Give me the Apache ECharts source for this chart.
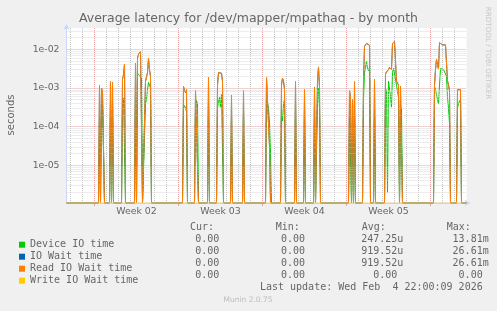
<!DOCTYPE html>
<html>
<head>
<meta charset="utf-8">
<title>Average latency for /dev/mapper/mpathaq - by month</title>
<script src="https://cdn.jsdelivr.net/npm/echarts@6/dist/echarts.min.js"></script>
<style>
html, body { margin: 0; padding: 0; background: #f0f0f0; }
#chart { width: 497px; height: 311px; }
</style>
</head>
<body>
<div id="chart"></div>
<script>
// sample times: hours after Mon 5 Jan 00:00 (2 hour steps, munin month view)
const hours = [
  -56,
  8, 10, 12, 14, 16, 18, 20,
  30, 32, 34, 36, 38,
  54, 56, 58, 60, 62,
  80, 82, 84, 86, 88, 90, 92, 94, 96,
  100, 102, 104, 106, 108, 110, 112, 114,
  176, 178, 180, 182, 184, 186,
  200, 202, 204, 206, 208,
  226, 228, 230,
  244, 246, 248, 250, 252, 254, 256, 258,
  272, 274, 276,
  296, 298, 300,
  342, 344, 346, 348, 350, 352, 354,
  372, 374, 376, 378, 380, 382,
  400, 402, 404,
  418, 420, 422,
  438, 440, 442, 444, 446, 448, 450, 452,
  508, 510, 512, 514, 516, 518, 520, 522,
  536, 538, 540, 542, 544, 546, 548, 550, 552,
  558, 560, 562,
  580, 582, 584, 586, 588, 590, 592, 594, 596, 598, 600, 602, 604, 606, 608, 610, 612, 614, 616,
  678, 680, 682, 684, 686, 688, 690, 692, 694, 696, 698, 700, 702, 704, 706, 708, 710, 712,
  724, 726, 728, 730, 732, 734,
  744
];

// seconds
const deviceIO = [
  0,
  0, 2e-4, 0, 4e-4, 3.5e-4, 3.5e-4, 0,
  0, 4e-4, 0, 4e-4, 0,
  0, 3e-4, 5.5e-4, 6e-4, 0,
  0, 1e-3, 0, 2.4e-3, 2.3e-3, 2.1e-3, 2.0e-3, 1.7e-3, 0,
  0, 4e-4, 5e-4, 9e-4, 1.4e-3, 1.4e-3, 1e-3, 0,
  0, 3e-4, 3.5e-4, 3e-4, 2.5e-4, 0,
  0, 3e-4, 4.7e-4, 4e-4, 0,
  0, 5e-4, 0,
  0, 3e-4, 4.5e-4, 5.7e-4, 3.2e-4, 7e-4, 7e-4, 0,
  0, 2e-4, 0,
  0, 2.5e-4, 0,
  0, 5e-4, 4e-4, 3e-4, 1.3e-4, 2.2e-5, 0,
  0, 2e-4, 1.4e-4, 4e-4, 5e-4, 0,
  0, 4e-4, 0,
  0, 3e-4, 0,
  0, 3e-4, 0, 0, 4e-4, 1e-3, 3e-4, 0,
  0, 2e-4, 2e-4, 0, 1.5e-4, 0, 3e-4, 0,
  0, 5e-4, 2.5e-3, 3.4e-3, 5e-3, 3.2e-3, 2.8e-3, 3.4e-3, 0,
  0, 4e-4, 0,
  0, 6e-4, 9e-4, 2e-6, 1.5e-3, 1.5e-3, 6e-4, 3.2e-4, 2.5e-3, 3.2e-3, 3.2e-3, 3.1e-3, 1.2e-3, 8e-4, 5.7e-4, 0, 2e-4, 3e-4, 0,
  0, 1.1e-3, 9e-4, 8.5e-4, 5e-4, 3.9e-4, 1.2e-3, 3.2e-3, 3.2e-3, 3e-3, 3e-3, 2.9e-3, 3e-3, 2e-3, 5.7e-4, 3e-4, 1.2e-4, 0,
  0, 3e-4, 4e-4, 3.9e-4, 5e-4, 0,
  0
];

const readWait = [
  0,
  0, 1.15e-3, 0, 1.0e-3, 8e-4, 7.5e-4, 0,
  0, 1.5e-3, 0, 1.4e-3, 0,
  0, 1.7e-3, 2.2e-3, 4.1e-3, 0,
  0, 4.4e-3, 0, 6e-3, 7.4e-3, 8.2e-3, 8.7e-3, 9.6e-3, 0,
  0, 1.5e-3, 1.4e-3, 2.5e-3, 5.9e-3, 3e-3, 2e-3, 0,
  0, 1.1e-3, 8.5e-4, 7.5e-4, 9e-4, 0,
  0, 8.5e-4, 8.5e-4, 9e-4, 0,
  0, 1.9e-3, 0,
  0, 1.2e-3, 2.5e-3, 2.3e-3, 2.6e-3, 2.4e-3, 1.5e-3, 0,
  0, 6.4e-4, 0,
  0, 8.5e-4, 0,
  0, 1.9e-3, 1.85e-3, 1.8e-3, 3e-5, 0, 0,
  0, 1.2e-3, 1.8e-3, 1.5e-3, 9.4e-4, 0,
  0, 1.45e-3, 0,
  0, 9e-4, 0,
  0, 1.04e-3, 0, 0, 1.5e-3, 3.5e-3, 1e-3, 0,
  0, 8.5e-4, 6e-4, 0, 5e-4, 0, 1.45e-3, 0,
  0, 1.6e-3, 1.2e-2, 1.35e-2, 1.42e-2, 1.3e-2, 1.27e-2, 1.27e-2, 0,
  0, 1.7e-3, 0,
  0, 2.3e-3, 2.6e-3, 2.5e-3, 3e-3, 3.4e-3, 3.1e-3, 3e-3, 1.4e-2, 1.54e-2, 1.6e-2, 1.73e-2, 1.5e-3, 1.54e-3, 1.2e-3, 0, 1.1e-3, 1.2e-3, 0,
  0, 1.2e-3, 3e-3, 5.5e-3, 4e-3, 3.1e-3, 1.48e-2, 1.5e-2, 1.45e-2, 1.3e-2, 1.17e-2, 1.25e-2, 1.3e-2, 1.34e-2, 1.54e-3, 1.2e-3, 8.5e-4, 0,
  0, 9e-4, 9.4e-4, 8.5e-4, 9e-4, 0,
  0
];
// no writes on this device, so total wait == read wait
const ioWait = readWait.slice();
const writeWait = hours.map(() => 0);

const seriesNames = ['Device IO time', 'IO Wait time', 'Read IO Wait time', 'Write IO Wait time'];
const seriesColors = ['#00CC00', '#0066B3', '#FF8000', '#FFCC00'];

const weekStarts = [0, 168, 336, 504, 672];
const weekCenters = [84, 252, 420, 588];
const weekLabels = ['Week 02', 'Week 03', 'Week 04', 'Week 05'];

const yTicks = [1e-5, 1e-4, 1e-3, 1e-2];
const yTickLabels = ['1e-05', '1e-04', '1e-03', '1e-02'];

const curCol = ['0.00 ', '0.00 ', '0.00 ', '0.00 '];
const minCol = ['0.00 ', '0.00 ', '0.00 ', '0.00 '];
const avgCol = ['247.25u', '919.52u', '919.52u', '0.00 '];
const maxCol = ['13.81m', '26.61m', '26.61m', '0.00 '];

const xMin = -56, xMax = 744;
const yMin = 1.06e-6, yMax = 0.0356;

const fontColor = '#666';
const gridGray = '#c4c4c4';
const gridGrayMinor = '#d8d8d8';
const gridRed = '#e8a0a0';

// minor log grid: 2..9 x 10^n
const yMinor = [];
for (let e = -6; e <= -2; e++) {
    for (let m = 2; m <= 9; m++) {
        const v = Number((m * Math.pow(10, e)).toPrecision(3));
        if (v > yMin && v < yMax) yMinor.push(v);
    }
}

const chart = echarts.init(document.getElementById('chart'));

// rrdtool draws zero on a log axis at the bottom edge
const toPoints = values => values.map((v, i) => [hours[i], v > 0 ? Math.max(v, yMin) : yMin]);

const dataSeries = seriesNames.map((name, k) => ({
    name: name,
    type: 'line',
    xAxisIndex: 0,
    yAxisIndex: 0,
    data: toPoints([deviceIO, ioWait, readWait, writeWait][k]),
    symbol: 'none',
    showSymbol: false,
    clip: true,
    // the zero write line sits on the axis and blends with it
    lineStyle: { width: 1, color: k === 3 ? '#dcc98c' : seriesColors[k] },
    itemStyle: { color: seriesColors[k] },
    z: 3 + k
}));

const monoText = (text, x, y, align) => ({
    type: 'text',
    x: x,
    y: y,
    silent: true,
    style: {
        text: text,
        font: '10px "DejaVu Sans Mono"',
        fill: fontColor,
        align: align || 'left',
        verticalAlign: 'middle'
    }
});

const rowY = [239.7, 251.7, 263.7, 275.7];
const tableText = [];
rowY.forEach((y, i) => {
    tableText.push(monoText(curCol[i], 225.3, y, 'right'));
    tableText.push(monoText(minCol[i], 311, y, 'right'));
    tableText.push(monoText(avgCol[i], 403.3, y, 'right'));
    tableText.push(monoText(maxCol[i], 488.7, y, 'right'));
});

const options = {
    backgroundColor: '#f0f0f0',
    animation: false,
    grid: [
        // plot area
        { left: 66.5, top: 28, width: 400, height: 175, show: true, backgroundColor: '#fff', borderWidth: 0 },
        // day grid, starts at first midnight
        { left: 70.5, top: 28, width: 396, height: 175 },
        // week grid, starts at Monday of week 02
        { left: 94.5, top: 28, width: 372, height: 175 }
    ],
    xAxis: [
        {
            gridIndex: 0,
            type: 'value',
            min: xMin,
            max: xMax,
            axisLine: {
                onZero: false,
                lineStyle: { color: '#CFD6F8' },
                symbol: ['none', 'arrow'],
                symbolSize: [5, 6],
                symbolOffset: [0, 4]
            },
            axisTick: { show: true, customValues: weekStarts, length: 3, lineStyle: { color: gridRed } },
            axisLabel: {
                customValues: weekCenters,
                formatter: v => weekLabels[weekCenters.indexOf(v)] || '',
                color: fontColor,
                fontFamily: 'DejaVu Sans',
                fontSize: 9.4,
                margin: 4
            },
            splitLine: { show: false }
        },
        {
            gridIndex: 1, type: 'value', min: -48, max: xMax, interval: 24,
            axisLine: { show: false }, axisTick: { show: false }, axisLabel: { show: false },
            splitLine: { show: true, showMaxLine: false, lineStyle: { color: gridGray, type: [1, 1], width: 1 } }
        },
        {
            gridIndex: 2, type: 'value', min: 0, max: xMax, interval: 168,
            axisLine: { show: false }, axisTick: { show: false }, axisLabel: { show: false },
            splitLine: { show: true, showMaxLine: false, lineStyle: { color: gridRed, type: [1, 1], width: 1 } }
        }
    ],
    yAxis: [
        {
            gridIndex: 0,
            type: 'log',
            logBase: 10,
            min: yMin,
            max: yMax,
            axisLine: {
                show: true,
                onZero: false,
                lineStyle: { color: '#CFD6F8' },
                symbol: ['none', 'arrow'],
                symbolSize: [5, 6],
                symbolOffset: [0, 4]
            },
            axisTick: { show: false },
            axisLabel: {
                customValues: yTicks,
                formatter: v => {
                    const i = yTicks.findIndex(t => Math.abs(t - v) / t < 1e-6);
                    return i >= 0 ? yTickLabels[i] : '';
                },
                color: fontColor,
                fontFamily: 'DejaVu Sans',
                fontSize: 9.3,
                margin: 7
            },
            splitLine: { show: true, showMinLine: false, showMaxLine: false, lineStyle: { color: gridRed, type: [1, 1], width: 1 } }
        },
        { gridIndex: 1, type: 'value', show: false },
        { gridIndex: 2, type: 'value', show: false }
    ],
    legend: {
        data: seriesNames,
        orient: 'vertical',
        left: 14,
        top: 233.7,
        itemWidth: 6,
        itemHeight: 6,
        itemGap: 0,
        icon: 'rect',
        selectedMode: false,
        textStyle: {
            fontFamily: 'DejaVu Sans Mono',
            fontSize: 10,
            lineHeight: 12,
            color: fontColor
        }
    },
    graphic: [
        {
            type: 'text', x: 248.5, y: 19, silent: true,
            style: {
                text: 'Average latency for /dev/mapper/mpathaq - by month',
                font: '12.5px "DejaVu Sans"', fill: fontColor, align: 'center', verticalAlign: 'middle'
            }
        },
        {
            type: 'text', x: 11, y: 115, rotation: Math.PI / 2, silent: true,
            style: { text: 'seconds', font: '10px "DejaVu Sans"', fill: fontColor, align: 'center', verticalAlign: 'middle' }
        },
        {
            type: 'text', x: 488, y: 53, rotation: -Math.PI / 2, silent: true,
            style: { text: 'RRDTOOL / TOBI OETIKER', font: '7.2px "DejaVu Sans"', fill: '#c8c8c8', align: 'center', verticalAlign: 'middle' }
        },
        monoText('Cur:', 190, 227.7),
        monoText('Min:', 275.7, 227.7),
        monoText('Avg:', 361.7, 227.7),
        monoText('Max:', 446.7, 227.7),
        ...tableText,
        monoText('Last update: Wed Feb  4 22:00:09 2026', 482.7, 287.7, 'right'),
        {
            type: 'text', x: 248, y: 300, silent: true,
            style: { text: 'Munin 2.0.75', font: '7.5px "DejaVu Sans"', fill: '#bbbbbb', align: 'center', verticalAlign: 'middle' }
        }
    ],
    series: [
        {
            // carrier for the minor log grid lines; its own line sits on the bottom edge, hidden
            type: 'line',
            xAxisIndex: 0,
            yAxisIndex: 0,
            data: [[xMin, yMin], [xMax, yMin]],
            symbol: 'none',
            lineStyle: { opacity: 0 },
            silent: true,
            z: 1,
            markLine: {
                silent: true,
                precision: 12,
                symbol: ['none', 'none'],
                label: { show: false },
                animation: false,
                lineStyle: { color: gridGrayMinor, type: [1, 1], width: 1 },
                data: yMinor.map(v => ({ yAxis: v }))
            }
        },
        ...dataSeries
    ]
};

chart.setOption(options);
</script>
</body>
</html>
